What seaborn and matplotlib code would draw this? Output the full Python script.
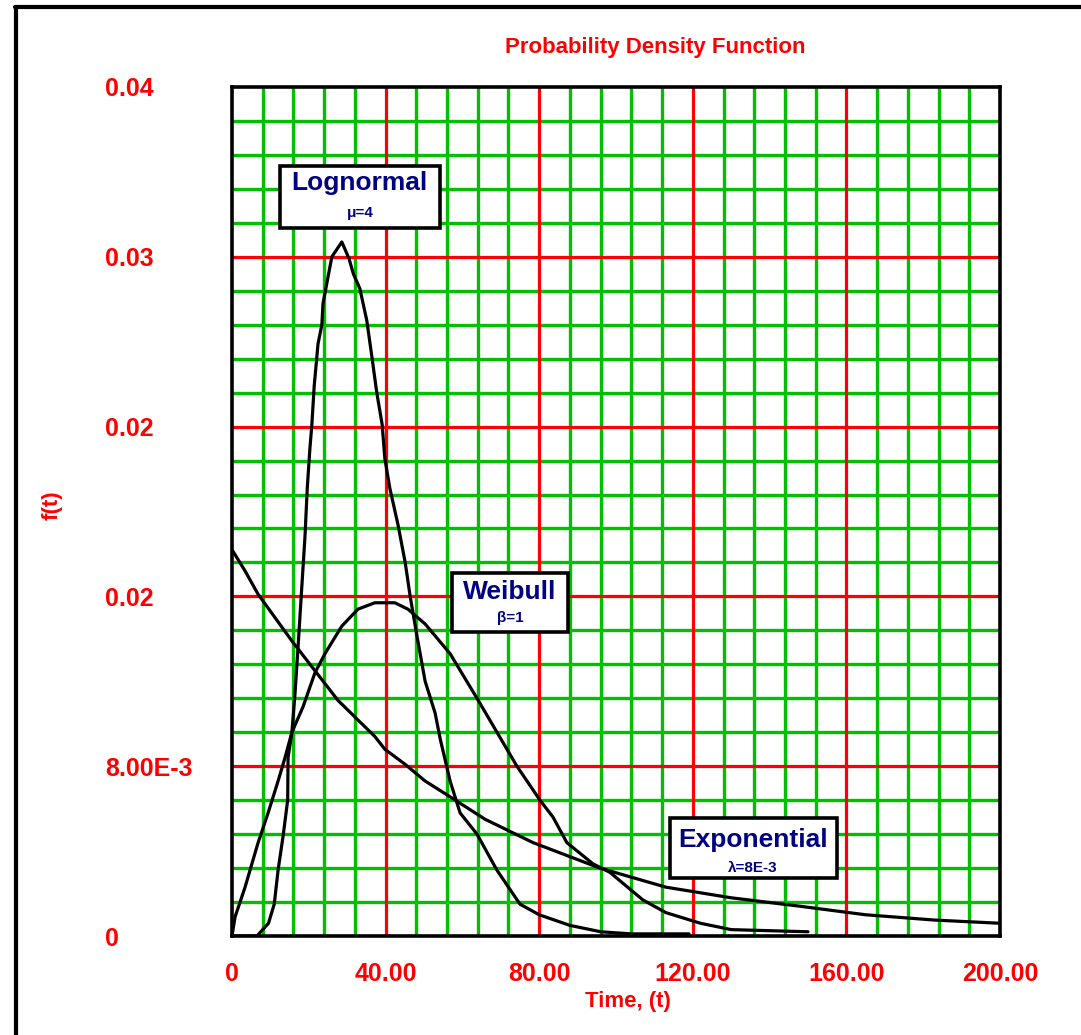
import matplotlib
matplotlib.use("Agg")
import matplotlib.pyplot as plt
from matplotlib.lines import Line2D
from matplotlib.patches import Rectangle
from matplotlib.ticker import MultipleLocator
import pandas as pd
import seaborn as sns

# ---------------- data ----------------
title = "Probability Density Function"
x_label = "Time, (t)"
y_label = "f(t)"

x_ticks = [0, 40, 80, 120, 160, 200]
x_tick_labels = ["0", "40.00", "80.00", "120.00", "160.00", "200.00"]
y_ticks = [0, 0.008, 0.016, 0.024, 0.032, 0.04]
y_tick_labels = ["0", "8.00E-3", "0.02", "0.02", "0.03", "0.04"]
x_minor_step = 8
y_minor_step = 0.0016

lognormal_t = [0, 6.5, 8, 9.5, 11, 12, 13.3, 14.5, 14.6, 15.6, 16.4, 17.2, 18.3, 19.0,
               19.6, 20.3, 20.8, 21.4, 22.4, 23.4, 23.7, 26.0, 28.6, 30.5, 31.6, 33.3,
               35.1, 36.5, 37.7, 39.1, 39.8, 41.1, 43.2, 45.1, 46.4, 48.2, 50.3, 52.9,
               54.2, 56.8, 59.4, 63.8, 69, 75, 80, 88, 96, 104, 119]
lognormal_f = [0, 0, 0.0003, 0.0006, 0.0015, 0.0031, 0.0047, 0.0064, 0.0084, 0.0096,
               0.0114, 0.0136, 0.0168, 0.0188, 0.0211, 0.0230, 0.0241, 0.0259, 0.0279,
               0.0288, 0.0298, 0.0320, 0.0327, 0.0319, 0.0312, 0.0305, 0.0290, 0.0272,
               0.0256, 0.0241, 0.0225, 0.0211, 0.0194, 0.0176, 0.0160, 0.0141, 0.0120,
               0.0105, 0.0093, 0.0073, 0.0058, 0.0048, 0.0031, 0.0015, 0.0010, 0.0005,
               0.0002, 0.0001, 0.0001]

weibull_t = [0, 0.8, 3.4, 6.8, 9.4, 12.0, 13.8, 15.6, 18.5, 21.6, 24.2, 28.6, 32.8, 37.2,
             42.4, 45.8, 50.3, 56.8, 63.8, 69.0, 74.2, 80.2, 83.6, 87.2, 94.0, 98.4, 107,
             113, 122, 130, 150]
weibull_f = [0, 0.0009, 0.0023, 0.0044, 0.0058, 0.0073, 0.0084, 0.0096, 0.0108, 0.0124,
             0.0133, 0.0146, 0.0154, 0.0157, 0.0157, 0.0154, 0.0147, 0.0133, 0.0112,
             0.0096, 0.0080, 0.0064, 0.0056, 0.0044, 0.0034, 0.0030, 0.0017, 0.0011,
             0.0006, 0.0003, 0.0002]

exponential_t = [0, 3.4, 6.8, 11.2, 15.6, 21.6, 27.6, 37.2, 39.8, 45, 50.3, 57.3, 65.9,
                 78.4, 95.8, 113, 130, 148, 165, 183, 200]
exponential_f = [0.0182, 0.0172, 0.0161, 0.0150, 0.0139, 0.0125, 0.0111, 0.0094, 0.0088,
                 0.0081, 0.0073, 0.0065, 0.0055, 0.0044, 0.0032, 0.0023, 0.0018, 0.0014,
                 0.0010, 0.00075, 0.0006]

box_titles = ["Lognormal", "Weibull", "Exponential"]
box_subtitles = ["μ=4", "β=1", "λ=8E-3"]

# ---------------- style ----------------
sns.set_style("white")
plt.rcParams["font.family"] = ["Liberation Sans", "DejaVu Sans"]

RED = "#ff0000"
GREEN = "#00c000"
NAVY = "#000080"

W, H = 1081, 1035
fig = plt.figure(figsize=(W / 100, H / 100), dpi=100)
fig.patch.set_facecolor("white")

# axes placement (pixels)
L, R, T, B = 232, 1000, 87, 936
ax = fig.add_axes([L / W, 1 - B / H, (R - L) / W, (B - T) / H])
ax.set_facecolor("white")
ax.set_xlim(x_ticks[0], x_ticks[-1])
ax.set_ylim(y_ticks[0], y_ticks[-1])

# minor green grid
ax.xaxis.set_minor_locator(MultipleLocator(x_minor_step))
ax.yaxis.set_minor_locator(MultipleLocator(y_minor_step))
ax.set_axisbelow(True)
ax.grid(which="minor", color=GREEN, lw=2.4, zorder=0.5)
ax.grid(which="major", visible=False)

# major red grid lines (interior ticks)
for xv in x_ticks[1:-1]:
    ax.axvline(xv, color=RED, lw=2.3, zorder=1)
for yv in y_ticks[1:-1]:
    ax.axhline(yv, color=RED, lw=2.3, zorder=1)

# curves
curves = pd.concat([
    pd.DataFrame({"t": lognormal_t, "f": lognormal_f, "dist": "Lognormal"}),
    pd.DataFrame({"t": weibull_t, "f": weibull_f, "dist": "Weibull"}),
    pd.DataFrame({"t": exponential_t, "f": exponential_f, "dist": "Exponential"}),
])
for name, d in curves.groupby("dist", sort=False):
    sns.lineplot(data=d, x="t", y="f", color="black", lw=2.3, ax=ax,
                 estimator=None, sort=False, zorder=3)
ax.set_xlabel("")
ax.set_ylabel("")

# ticks
ax.set_xticks(x_ticks, labels=x_tick_labels)
ax.set_yticks(y_ticks, labels=y_tick_labels)
ax.tick_params(which="minor", length=0)
ax.tick_params(axis="x", which="major", length=13.7, width=2.3, color=RED,
               direction="out", pad=5, labelsize=18, labelcolor=RED)
ax.tick_params(axis="y", which="major", length=9.4, width=2.3, color=RED,
               direction="out", pad=82, labelsize=18, labelcolor=RED)
for lab in ax.get_xticklabels() + ax.get_yticklabels():
    lab.set_fontweight("bold")
for lab in ax.get_yticklabels():
    lab.set_horizontalalignment("left")
xt = ax.xaxis.get_major_ticks()
for i in (0, len(xt) - 1):
    xt[i].tick1line.set_color("black")
yt = ax.yaxis.get_major_ticks()
for i in (0, len(yt) - 1):
    yt[i].tick1line.set_color("black")

for s in ax.spines.values():
    s.set_color("black")
    s.set_linewidth(2.6)
    s.set_zorder(4)

# annotation boxes (data coords for placement)
boxes = [
    dict(x0=12.5, x1=54.2, y0=0.03337, y1=0.03628, tx=33.3, ty=0.03548, sy=0.03407),
    dict(x0=57.3, x1=87.5, y0=0.01431, y1=0.01708, tx=72.4, ty=0.01619, sy=0.01497),
    dict(x0=114.1, x1=157.6, y0=0.00273, y1=0.00555, tx=135.7, ty=0.00452, sy=0.00320),
]
for b, ttl, sub in zip(boxes, box_titles, box_subtitles):
    ax.add_patch(Rectangle((b["x0"], b["y0"]), b["x1"] - b["x0"], b["y1"] - b["y0"],
                           facecolor="white", edgecolor="black", lw=2.6, zorder=5))
    ax.text(b["tx"], b["ty"], ttl, color=NAVY, fontsize=19, fontweight="bold",
            ha="center", va="center", zorder=6)
    ax.text(b["tx"], b["sy"], sub, color=NAVY, fontsize=11, fontweight="bold",
            ha="center", va="center", zorder=6)

# titles
fig.text(655 / W, 1 - 47 / H, title, color=RED, fontsize=16, fontweight="bold",
         ha="center", va="center")
fig.text(628 / W, 1 - 1002 / H, x_label, color=RED, fontsize=16, fontweight="bold",
         ha="center", va="center")
fig.text(52 / W, 1 - 505 / H, y_label, color=RED, fontsize=16, fontweight="bold",
         ha="center", va="center", rotation=90)

# outer frame (partially cut off)
fig.add_artist(Line2D([15 / W, 1.0], [1 - 7 / H, 1 - 7 / H], color="black", lw=3))
fig.add_artist(Line2D([16 / W, 16 / W], [1 - 7 / H, 0.0], color="black", lw=3))

fig.savefig("out.png", dpi=100, facecolor="white")
